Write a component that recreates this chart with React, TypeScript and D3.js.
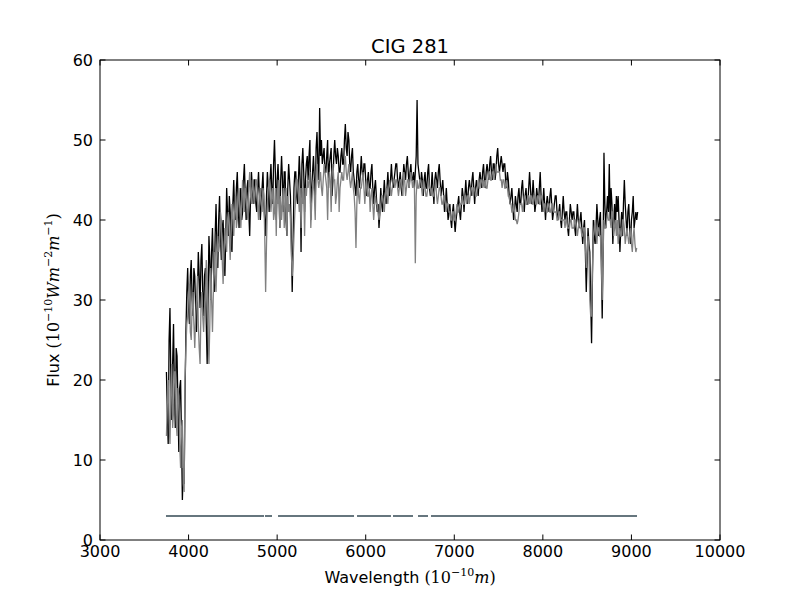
import { useEffect, useRef } from 'react';
import * as d3 from 'd3';

// Spectrum sampling grid (Angstrom); one row below = 100 A
const WAVE_START = 3750;
const WAVE_STEP = 10;

// Observed flux (black)
const blackFlux = [
  21, 16, 12, 25, 29, 20, 15, 22, 27, 19,
  14, 24, 23, 17, 11, 19, 20, 13, 5, 9,
  7, 18, 26, 31, 34, 29, 27, 33, 35, 30,
  28, 34, 33, 29, 26, 31, 36, 33, 29, 35,
  37, 31, 28, 33, 34, 27, 22, 30, 38, 35,
  30, 36, 39, 34, 31, 38, 42, 37, 34, 40,
  43, 38, 35, 39, 40, 36, 33, 38, 44, 41,
  38, 43, 41, 37, 36, 42, 45, 41, 40, 44,
  46, 42, 39, 43, 44, 40, 41, 45, 47, 43,
  40, 44, 45, 41, 38, 43, 46, 44, 42, 45,
  45, 42, 41, 44, 46, 43, 40, 42, 44, 46,
  42, 40, 38, 43, 46, 44, 41, 45, 47, 44,
  42, 47, 50, 46, 40, 45, 47, 44, 39, 45,
  48, 45, 41, 46, 46, 40, 38, 44, 47, 45,
  43, 38, 31, 37, 44, 46, 46, 43, 42, 45,
  48, 45, 36, 47, 49, 46, 41, 45, 47, 48,
  45, 48, 50, 40, 44, 46, 48, 45, 42, 49,
  51, 47, 45, 54, 48, 50, 47, 48, 49, 46,
  46, 48, 50, 44, 47, 48, 49, 43, 45, 48,
  50, 48, 47, 49, 48, 46, 46, 48, 49, 47,
  47, 50, 52, 49, 48, 51, 50, 47, 46, 48,
  49, 46, 45, 44, 43, 46, 47, 45, 44, 46,
  48, 46, 45, 47, 47, 45, 43, 45, 46, 44,
  44, 46, 47, 44, 42, 44, 45, 43, 41, 42,
  39, 41, 44, 42, 41, 43, 45, 43, 42, 44,
  46, 44, 43, 45, 47, 45, 44, 45, 46, 47,
  47, 45, 44, 45, 46, 44, 43, 45, 47, 46,
  45, 47, 48, 46, 44, 46, 47, 45, 45, 46,
  44, 46, 48, 55, 47, 46, 45, 44, 46, 45,
  43, 45, 46, 44, 44, 46, 47, 44, 43, 44,
  46, 44, 42, 45, 46, 45, 44, 46, 47, 45,
  43, 44, 45, 43, 41, 42, 44, 42, 40, 41,
  42, 40, 39, 41, 42, 40, 38.5, 40, 41, 42,
  43, 41, 40, 42, 44, 43, 41, 43, 45, 43,
  42, 44, 45, 44, 43, 45, 46, 44, 42, 44,
  45, 44, 43, 45, 46, 45, 44, 46, 47, 45,
  44, 46, 47, 46, 45, 47, 48, 46, 45, 47,
  47, 45, 46, 48, 49, 47, 46, 47, 48, 47,
  46, 47, 47, 45, 44, 46, 45, 43, 42, 43,
  44, 42, 40, 41, 43, 42, 41, 43, 44, 42,
  42, 44, 45, 43, 41, 43, 44, 42, 42, 44,
  46, 44, 42, 43, 45, 43, 41, 42, 44, 43,
  42, 44, 46, 43, 41, 42, 44, 42, 40, 42,
  43, 42, 41, 43, 44, 42, 40, 41, 42, 43,
  43, 41, 40, 41, 42, 40, 39, 41, 43, 41,
  40, 41, 41, 39, 38, 40, 42, 41, 40, 41,
  41, 39, 38, 40, 42, 40, 39, 40, 41, 39,
  37, 39, 40, 36, 31, 35, 39, 37, 36, 30,
  24.6, 33, 40, 38, 37, 39, 42, 40, 38, 40,
  41, 35, 27.7, 36, 48.4, 42, 39, 41, 43, 41,
  47, 40, 44, 42, 37, 40, 42, 39, 43, 41,
  43, 40, 36, 39, 41, 38, 42, 45, 42, 40,
  38, 41, 42, 39, 37, 40, 41, 43, 39, 40,
  41, 40, 41,
];

// Model flux (gray)
const grayFlux = [
  13, 17, 20, 15, 12, 18, 22, 14, 16, 21,
  21, 15, 13, 19, 18, 12, 9, 14, 15, 7,
  6, 20, 24, 27, 28, 31, 32, 26, 25, 29,
  31, 27, 24, 28, 30, 33, 27, 24, 22, 29,
  31, 28, 26, 29, 30, 35, 33, 26, 22, 27,
  34, 30, 26, 31, 36, 33, 31, 35, 38, 36,
  37, 41, 40, 35, 32, 36, 39, 37, 36, 40,
  41, 38, 35, 39, 42, 40, 38, 41, 43, 39,
  40, 43, 44, 41, 39, 42, 45, 43, 41, 44,
  43, 41, 40, 44, 46, 43, 42, 45, 44, 42,
  43, 45, 45, 42, 40, 43, 44, 42, 41, 44,
  43, 38, 31, 37, 42, 44, 45, 43, 41, 43,
  44, 40, 41, 44, 38, 44, 42, 45, 39, 43,
  40, 42, 44, 39, 42, 44, 38, 43, 41, 42,
  40, 36, 33, 35, 38, 41, 43, 45, 45, 43,
  41, 44, 39, 44, 42, 44, 38, 44, 43, 45,
  44, 45, 46, 39, 42, 44, 45, 43, 40, 46,
  47, 45, 44, 45, 46, 44, 43, 45, 47, 46,
  45, 44, 40, 45, 46, 45, 41, 46, 47, 45,
  45, 42, 43, 45, 46, 41, 44, 45, 46, 45,
  45, 47, 48, 46, 45, 46, 47, 45, 44, 45,
  46, 44, 43, 41, 36.5, 42, 45, 43, 42, 44,
  44, 45, 46, 44, 42, 44, 45, 43, 43, 44,
  41, 43, 44, 42, 40, 42, 43, 42, 42, 41,
  40, 41, 42, 43, 43, 42, 41, 43, 44, 43,
  42, 44, 45, 44, 43, 44, 45, 45, 44, 45,
  45, 44, 43, 44, 45, 45, 44, 43, 46, 45,
  43, 44, 45, 45, 44, 45, 46, 45, 44, 45,
  44, 34.6, 43, 45, 44, 44, 45, 45, 44, 43,
  45, 44, 44, 43, 43, 44, 45, 44, 44, 43,
  44, 43, 43, 44, 45, 43, 42, 43, 44, 44,
  43, 42, 42, 43, 43, 42, 41, 42, 42, 41,
  41, 40, 40, 41, 41, 40, 40, 41, 42, 41,
  41, 42, 42, 42, 43, 42, 42, 43, 43, 42,
  43, 43, 42, 43, 44, 44, 43, 44, 44, 43,
  43, 44, 45, 44, 44, 45, 45, 44, 45, 44,
  45, 44, 44, 45, 46, 46, 45, 45, 46, 46,
  45, 46, 47, 46, 46, 46, 46, 45, 45, 44,
  45, 45, 44, 44, 45, 44, 43, 43, 42, 42,
  41, 41, 42, 41, 40, 40, 39.5, 40, 41, 42,
  42, 42, 41, 42, 43, 43, 42, 42, 43, 43,
  42, 43, 43, 42, 42, 43, 43, 42, 42, 43,
  43, 42, 42, 43, 43, 42, 41, 42, 42, 41,
  41, 42, 42, 41, 41, 42, 42, 41, 41, 41,
  41, 40, 40, 41, 41, 40, 40, 40, 40, 40,
  39, 40, 40, 39, 39, 39, 40, 40, 39, 39,
  39, 40, 40, 39, 38, 39, 40, 39, 39, 38,
  38, 39, 39, 37, 34, 36, 38, 36, 30, 28,
  28, 34, 38, 39, 40, 38, 37, 39, 39, 38,
  38, 35, 30, 36, 40, 39, 39, 40, 41, 40,
  40, 40, 39, 41, 41, 38, 39, 40, 38, 40,
  37, 38, 39, 38, 38, 40, 40, 39, 37, 38,
  39, 38, 37, 38, 39, 37, 36, 38, 39, 37,
  36, 36.5,
];

// Good-pixel mask segments drawn at flux = 3
const maskSegments = [
  [3745, 4852],
  [4863, 4942],
  [5010, 5868],
  [5902, 6285],
  [6308, 6534],
  [6590, 6703],
  [6737, 9063],
];
const MASK_LEVEL = 3;

const xTicks = [3000, 4000, 5000, 6000, 7000, 8000, 9000, 10000];
const yTicks = [0, 10, 20, 30, 40, 50, 60];

const WIDTH = 800;
const HEIGHT = 600;
const FONT = '"DejaVu Sans", sans-serif';
const MATH = '"DejaVu Serif", serif';

export default function App() {
  const svgRef = useRef<SVGSVGElement>(null);

  useEffect(() => {
    if (!svgRef.current) return;
    const svg = d3.select(svgRef.current);
    svg.selectAll('*').remove();

    const margin = { top: 60, right: 80, bottom: 60, left: 100 };
    const innerWidth = WIDTH - margin.left - margin.right;
    const innerHeight = HEIGHT - margin.top - margin.bottom;

    svg.append('rect').attr('width', WIDTH).attr('height', HEIGHT).attr('fill', '#fff');

    const g = svg.append('g').attr('transform', `translate(${margin.left}, ${margin.top})`);

    const x = d3.scaleLinear().domain([3000, 10000]).range([0, innerWidth]);
    const y = d3.scaleLinear().domain([0, 60]).range([innerHeight, 0]);

    const line = d3.line<number[]>()
      .x(d => x(d[0]))
      .y(d => y(d[1]));

    const blackPts = blackFlux.map((f, i) => [WAVE_START + i * WAVE_STEP, f]);
    const grayPts = grayFlux.map((f, i) => [WAVE_START + i * WAVE_STEP, f]);

    g.append('path')
      .attr('d', line(blackPts))
      .attr('fill', 'none')
      .attr('stroke', '#000')
      .attr('stroke-width', 1.3);

    g.append('path')
      .attr('d', line(grayPts))
      .attr('fill', 'none')
      .attr('stroke', '#808080')
      .attr('stroke-width', 1.3);

    // mask segments
    g.selectAll('.mask')
      .data(maskSegments)
      .enter()
      .append('line')
      .attr('x1', d => x(d[0]))
      .attr('x2', d => x(d[1]))
      .attr('y1', y(MASK_LEVEL))
      .attr('y2', y(MASK_LEVEL))
      .attr('stroke', '#66767e')
      .attr('stroke-width', 2);

    // frame
    g.append('rect')
      .attr('width', innerWidth)
      .attr('height', innerHeight)
      .attr('fill', 'none')
      .attr('stroke', '#000')
      .attr('stroke-width', 1);

    // inward ticks on all sides
    const tickLen = 5.5;
    xTicks.forEach(t => {
      g.append('line').attr('x1', x(t)).attr('x2', x(t))
        .attr('y1', innerHeight).attr('y2', innerHeight - tickLen).attr('stroke', '#000');
      g.append('line').attr('x1', x(t)).attr('x2', x(t))
        .attr('y1', 0).attr('y2', tickLen).attr('stroke', '#000');
      g.append('text')
        .attr('x', x(t))
        .attr('y', innerHeight + 17)
        .attr('text-anchor', 'middle')
        .attr('font-family', FONT)
        .attr('font-size', 16)
        .text(String(t));
    });
    yTicks.forEach(t => {
      g.append('line').attr('x1', 0).attr('x2', tickLen)
        .attr('y1', y(t)).attr('y2', y(t)).attr('stroke', '#000');
      g.append('line').attr('x1', innerWidth).attr('x2', innerWidth - tickLen)
        .attr('y1', y(t)).attr('y2', y(t)).attr('stroke', '#000');
      g.append('text')
        .attr('x', -7)
        .attr('y', y(t))
        .attr('dy', '0.36em')
        .attr('text-anchor', 'end')
        .attr('font-family', FONT)
        .attr('font-size', 16)
        .text(String(t));
    });

    // title
    svg.append('text')
      .attr('x', margin.left + innerWidth / 2)
      .attr('y', 53)
      .attr('text-anchor', 'middle')
      .attr('font-family', FONT)
      .attr('font-size', 19.5)
      .text('CIG 281');

    // x label
    const xl = svg.append('text')
      .attr('x', margin.left + innerWidth / 2)
      .attr('y', 583)
      .attr('text-anchor', 'middle')
      .attr('font-family', FONT)
      .attr('font-size', 16);
    xl.append('tspan').text('Wavelength ');
    xl.append('tspan').attr('font-family', MATH).text('(10');
    xl.append('tspan').attr('font-family', MATH).attr('font-size', 11).attr('dy', -7).text('−10');
    xl.append('tspan').attr('font-family', MATH).attr('font-style', 'italic').attr('dy', 7).text('m');
    xl.append('tspan').attr('font-family', MATH).text(')');

    // y label
    const yl = svg.append('text')
      .attr('transform', `translate(59, ${margin.top + innerHeight / 2}) rotate(-90)`)
      .attr('text-anchor', 'middle')
      .attr('font-family', FONT)
      .attr('font-size', 16);
    yl.append('tspan').text('Flux ');
    yl.append('tspan').attr('font-family', MATH).text('(10');
    yl.append('tspan').attr('font-family', MATH).attr('font-size', 11).attr('dy', -7).text('−10');
    yl.append('tspan').attr('font-family', MATH).attr('font-style', 'italic').attr('dy', 7).text('Wm');
    yl.append('tspan').attr('font-family', MATH).attr('font-size', 11).attr('dy', -7).text('−2');
    yl.append('tspan').attr('font-family', MATH).attr('font-style', 'italic').attr('dy', 7).text('m');
    yl.append('tspan').attr('font-family', MATH).attr('font-size', 11).attr('dy', -7).text('−1');
    yl.append('tspan').attr('font-family', MATH).attr('dy', 7).text(')');
  }, []);

  return (
    <svg
      ref={svgRef}
      width={WIDTH}
      height={HEIGHT}
      style={{ display: 'block', position: 'absolute', left: 0, top: 0 }}
    ></svg>
  );
}
